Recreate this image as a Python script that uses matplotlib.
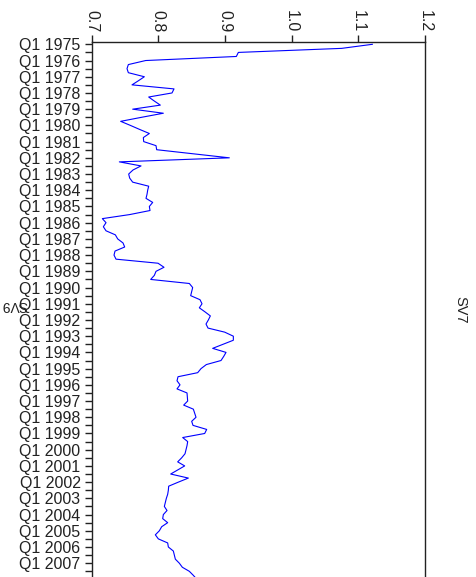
import matplotlib
matplotlib.use("Agg")
import matplotlib.pyplot as plt
import numpy as np

plt.rcParams['font.family'] = ['Liberation Sans', 'DejaVu Sans']

# Data: quarterly SV7 values, Q1 1975 onwards
start_year = 1975
sv7 = [
    1.121, 1.075, 0.920, 0.917, 0.781, 0.755, 0.753, 0.755,  # 1975-76
    0.779, 0.770, 0.7605, 0.8235, 0.8205, 0.7855, 0.794, 0.803,  # 1977-78
    0.7615, 0.8075, 0.775, 0.7435, 0.758, 0.772, 0.7865, 0.7775,  # 1979-80
    0.778, 0.7965, 0.7975, 0.852, 0.9065, 0.7415, 0.774, 0.762,  # 1981-82
    0.7555, 0.757, 0.7615, 0.7855, 0.784, 0.783, 0.7815, 0.7915,  # 1983-84
    0.7865, 0.7875, 0.757, 0.716, 0.7215, 0.7175, 0.7215, 0.7355,  # 1985-86
    0.739, 0.747, 0.7495, 0.735, 0.7335, 0.7365, 0.7995, 0.8085,  # 1987-88
    0.7965, 0.794, 0.7885, 0.8465, 0.8515, 0.850, 0.8485, 0.8625,  # 1989-90
    0.8655, 0.8615, 0.870, 0.878, 0.875, 0.8715, 0.8745, 0.8995,  # 1991-92
    0.9125, 0.9125, 0.897, 0.8815, 0.9015, 0.898, 0.894, 0.872,  # 1993-94
    0.864, 0.859, 0.8295, 0.828, 0.8325, 0.828, 0.843, 0.8435,  # 1995-96
    0.844, 0.838, 0.8525, 0.8545, 0.8565, 0.850, 0.852, 0.8725,  # 1997-98
    0.8695, 0.8365, 0.844, 0.843, 0.8415, 0.840, 0.835, 0.829,  # 1999-2000
    0.8395, 0.829, 0.8185, 0.845, 0.830, 0.8155, 0.815, 0.814,  # 2001-02
    0.812, 0.8105, 0.809, 0.813, 0.8075, 0.8065, 0.814, 0.805,  # 2003-04
    0.8015, 0.7955, 0.800, 0.814, 0.815, 0.8225, 0.824, 0.8255,  # 2005-06
    0.8315, 0.836, 0.8465, 0.8525, 0.858,  # 2007-08
]
value_ticks = [0.7, 0.8, 0.9, 1.0, 1.1, 1.2]

q = np.arange(len(sv7))

fig = plt.figure(figsize=(4.77, 5.77), dpi=100)
# axes runs just past the bottom edge of the figure, as in the reference
ax = fig.add_axes([0.1922, -0.0035, 0.6988, 0.9312])

ax.plot(sv7, q, color='#0000ff', linewidth=0.8)

ax.set_xlim(0.7, 1.2)
ax.set_ylim(131.9, -0.64)

ax.xaxis.tick_top()
ax.set_xticks(value_ticks)
ax.set_xticklabels([f'{v:.1f}' for v in value_ticks], rotation=-90)

yt = np.arange(0, 132, 2)
ax.set_yticks(yt)
ax.set_yticklabels([f'Q1 {start_year + i // 4}' if i % 4 == 0 else '' for i in yt])

ax.tick_params(axis='both', direction='out', length=5, width=1, labelsize=11.5,
               color='#222222', labelcolor='#222222')
ax.tick_params(axis='y', pad=3)
ax.tick_params(axis='x', pad=2)

for s in ['top', 'left', 'right']:
    ax.spines[s].set_linewidth(1)
    ax.spines[s].set_color('#222222')
ax.spines['bottom'].set_visible(False)

fig.text(460 / 477, 1 - 310 / 577, 'SV7', rotation=-90, ha='center', va='center',
         fontsize=10.5, color='#222222')
fig.text(14 / 477, 1 - 305 / 577, 'SV9', rotation=180, ha='center', va='center',
         fontsize=10, color='#222222')

fig.savefig('out.png', dpi=100)
